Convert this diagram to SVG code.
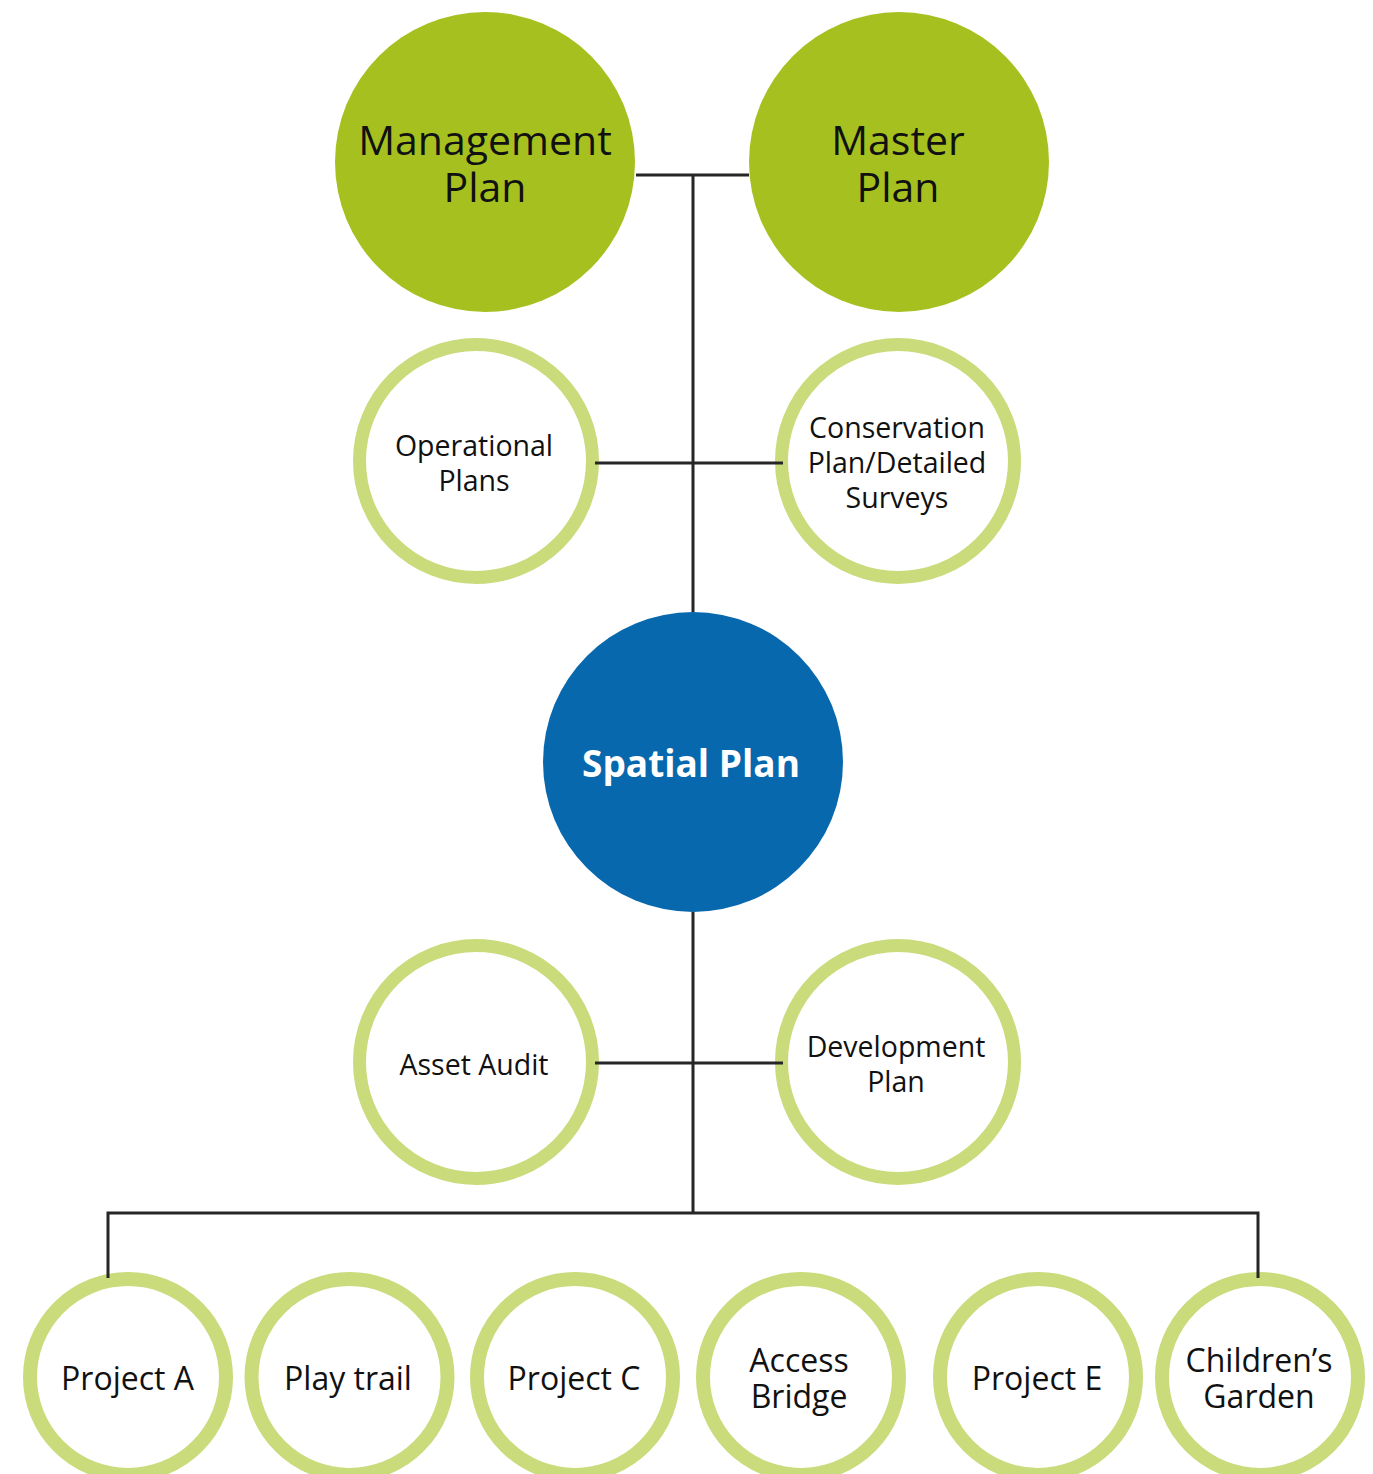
<svg xmlns="http://www.w3.org/2000/svg" width="1373" height="1474" viewBox="0 0 1373 1474">
<style>
.solid{fill:#A6C11F}
.ring{fill:#FFFFFF;stroke:#C9DB7B}
.mid{stroke-width:13}
.bot{stroke-width:14}
.blue{fill:#0768AD}
text{font-family:"Open Sans","Noto Sans","Liberation Sans",sans-serif;fill:#111;text-anchor:middle}
.big{font-size:41px}
.med{font-size:28.5px}
.sm{font-size:32px}
.sp{font-size:37px;font-weight:bold;fill:#FFFFFF}
.conn{fill:none;stroke:#262626;stroke-width:3}
</style>
<rect width="1373" height="1474" fill="#FFFFFF"/>
<g id="management-plan"><circle class="solid" cx="485" cy="162" r="150"/><text class="big" x="485" y="155">Management</text><text class="big" x="485" y="202">Plan</text></g>
<g id="master-plan"><circle class="solid" cx="899" cy="162" r="150"/><text class="big" x="898" y="155">Master</text><text class="big" x="898" y="202">Plan</text></g>
<g id="operational-plans"><circle class="ring mid" cx="476" cy="461" r="116.5"/><text class="med" x="474" y="456">Operational</text><text class="med" x="474" y="491">Plans</text></g>
<g id="conservation-plan"><circle class="ring mid" cx="898" cy="461" r="116.5"/><text class="med" x="897" y="438">Conservation</text><text class="med" x="897" y="473">Plan/Detailed</text><text class="med" x="897" y="508">Surveys</text></g>
<g id="spatial-plan"><circle class="blue" cx="693" cy="762" r="150"/><text class="sp" x="691" y="777">Spatial Plan</text></g>
<g id="asset-audit"><circle class="ring mid" cx="476" cy="1062" r="116.5"/><text class="med" x="474" y="1075">Asset Audit</text></g>
<g id="development-plan"><circle class="ring mid" cx="898" cy="1062" r="116.5"/><text class="med" x="896" y="1057">Development</text><text class="med" x="896" y="1092">Plan</text></g>
<g id="project-a"><circle class="ring bot" cx="128" cy="1377" r="98"/><text class="sm" x="127.5" y="1390">Project A</text></g>
<g id="play-trail"><circle class="ring bot" cx="349.5" cy="1377" r="98"/><text class="sm" x="348" y="1390">Play trail</text></g>
<g id="project-c"><circle class="ring bot" cx="575" cy="1377" r="98"/><text class="sm" x="574" y="1390">Project C</text></g>
<g id="access-bridge"><circle class="ring bot" cx="801" cy="1377" r="98"/><text class="sm" x="799" y="1372">Access</text><text class="sm" x="799" y="1408">Bridge</text></g>
<g id="project-e"><circle class="ring bot" cx="1038" cy="1377" r="98"/><text class="sm" x="1037" y="1390">Project E</text></g>
<g id="childrens-garden"><circle class="ring bot" cx="1260" cy="1377" r="98"/><text class="sm" x="1259" y="1372">Children’s</text><text class="sm" x="1259" y="1408">Garden</text></g>
<g id="connectors">
<path class="conn" d="M636,175 H749"/>
<path class="conn" d="M693,175 V612"/>
<path class="conn" d="M595,463 H783"/>
<path class="conn" d="M693,912 V1213"/>
<path class="conn" d="M595,1063 H783"/>
<path class="conn" d="M108,1278 V1213 H1258 V1278"/>
</g>
</svg>
